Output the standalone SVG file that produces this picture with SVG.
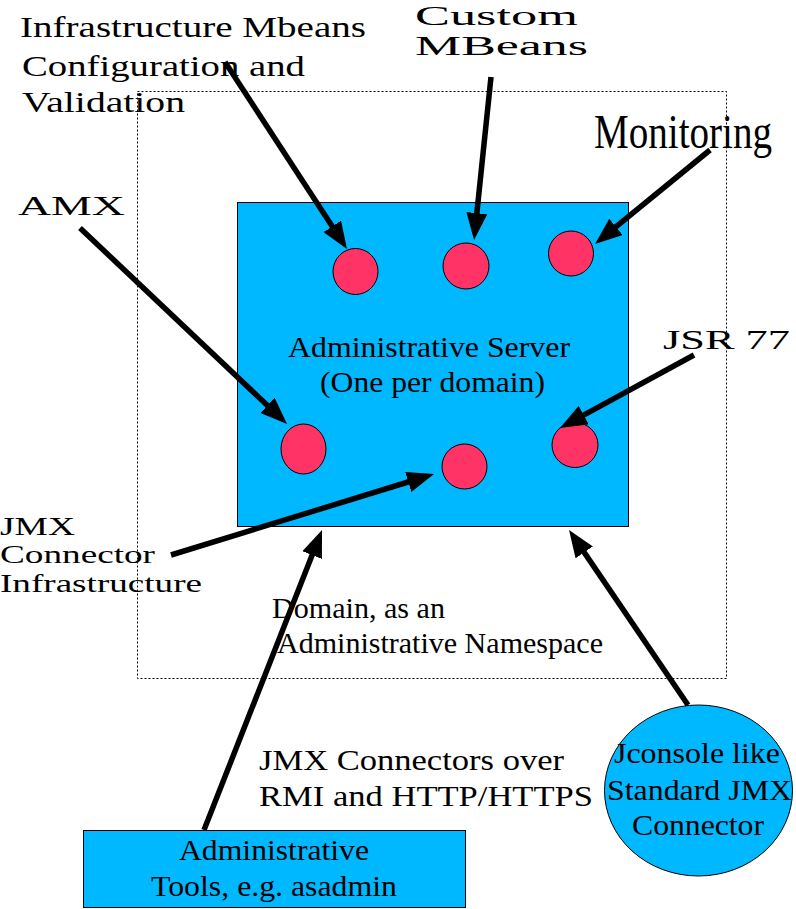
<svg xmlns="http://www.w3.org/2000/svg" width="796" height="909" viewBox="0 0 796 909" font-family="'Liberation Serif', 'Times New Roman', serif">
<style>
text{font-family:'Liberation Serif', 'Times New Roman', serif;fill:#000}
.lbl{font-size:30px}
.wide{font-size:27px}
.dom{fill:none;stroke:#000;stroke-width:1;stroke-dasharray:2,2}
.blue{fill:#00b8ff;stroke:#000;stroke-width:1}
.bean{fill:#ff3366;stroke:#000;stroke-width:1}
.arr{fill:none;stroke:#000;stroke-width:5.5;marker-end:url(#ah)}
</style>
<defs>
<marker id="ah" markerUnits="userSpaceOnUse" viewBox="0 0 27 21" markerWidth="27" markerHeight="21" refX="10" refY="10.5" orient="auto">
<path d="M0,0 L27,10.5 L0,21 z" fill="#000"/>
</marker>
</defs>
<rect width="796" height="909" fill="#fff"/>

<g id="domain">
<rect class="dom" x="137.5" y="91.5" width="589" height="587"/>
<text class="lbl" x="272" y="618" textLength="173" lengthAdjust="spacingAndGlyphs">Domain, as an</text>
<text class="lbl" x="277" y="653" textLength="326" lengthAdjust="spacingAndGlyphs">Administrative Namespace</text>
</g>

<g id="admin-server">
<rect class="blue" x="237.5" y="202.5" width="391" height="324"/>
<text class="lbl" x="288" y="357" textLength="282" lengthAdjust="spacingAndGlyphs">Administrative Server</text>
<text class="lbl" x="320" y="392" textLength="225" lengthAdjust="spacingAndGlyphs">(One per domain)</text>
</g>

<g id="mbean-infra"><ellipse class="bean" cx="355.5" cy="271.5" rx="22.5" ry="23"/></g>
<g id="mbean-custom"><ellipse class="bean" cx="466" cy="266" rx="23" ry="23"/></g>
<g id="mbean-monitoring"><ellipse class="bean" cx="571" cy="253.5" rx="22.5" ry="22.5"/></g>
<g id="mbean-amx"><ellipse class="bean" cx="303.5" cy="449" rx="22.5" ry="25"/></g>
<g id="mbean-jmx"><ellipse class="bean" cx="464.5" cy="466.5" rx="22.5" ry="22.5"/></g>
<g id="mbean-jsr77"><ellipse class="bean" cx="575" cy="445" rx="23" ry="22.5"/></g>

<g id="label-infra">
<text class="lbl" x="20" y="37" textLength="346" lengthAdjust="spacingAndGlyphs">Infrastructure Mbeans</text>
<text class="lbl" x="22" y="76" textLength="283" lengthAdjust="spacingAndGlyphs">Configuration and</text>
<text class="lbl" x="22" y="112" textLength="163" lengthAdjust="spacingAndGlyphs">Validation</text>
</g>
<g id="label-custom">
<text class="wide" x="415" y="25" textLength="163" lengthAdjust="spacingAndGlyphs">Custom</text>
<text class="wide" x="415" y="55" textLength="173" lengthAdjust="spacingAndGlyphs">MBeans</text>
</g>
<g id="label-monitoring">
<text x="594" y="148" font-size="48" textLength="178" lengthAdjust="spacingAndGlyphs">Monitoring</text>
</g>
<g id="label-amx">
<text class="wide" x="18" y="215" textLength="107" lengthAdjust="spacingAndGlyphs">AMX</text>
</g>
<g id="label-jsr77">
<text class="wide" x="663" y="349" font-size="29" textLength="127" lengthAdjust="spacingAndGlyphs">JSR 77</text>
</g>
<g id="label-jmx-infra">
<text x="0" y="535" font-size="25" textLength="75" lengthAdjust="spacingAndGlyphs">JMX</text>
<text x="0" y="563" font-size="25" textLength="155" lengthAdjust="spacingAndGlyphs">Connector</text>
<text x="0" y="592" font-size="25" textLength="202" lengthAdjust="spacingAndGlyphs">Infrastructure</text>
</g>

<g id="admin-tools">
<rect class="blue" x="83.5" y="830.5" width="382" height="77"/>
<text class="lbl" x="179" y="860" textLength="190" lengthAdjust="spacingAndGlyphs">Administrative</text>
<text class="lbl" x="151" y="896" textLength="246" lengthAdjust="spacingAndGlyphs">Tools, e.g. asadmin</text>
</g>

<g id="jconsole">
<ellipse class="blue" cx="698.5" cy="790.5" rx="94" ry="85.5"/>
<text class="lbl" x="614" y="763" textLength="166" lengthAdjust="spacingAndGlyphs">Jconsole like</text>
<text class="lbl" x="607" y="800" textLength="185" lengthAdjust="spacingAndGlyphs">Standard JMX</text>
<text class="lbl" x="632" y="835" textLength="132" lengthAdjust="spacingAndGlyphs">Connector</text>
</g>

<g id="label-connectors">
<text class="lbl" x="259" y="770" textLength="305" lengthAdjust="spacingAndGlyphs">JMX Connectors over</text>
<text class="lbl" x="259" y="806" textLength="334" lengthAdjust="spacingAndGlyphs">RMI and HTTP/HTTPS</text>
</g>

<g id="connectors">
<line class="arr" x1="225" y1="62" x2="337.7" y2="234.8"/>
<line class="arr" x1="491" y1="77" x2="475.8" y2="223.1"/>
<line class="arr" x1="710" y1="150" x2="608.2" y2="233.2"/>
<line class="arr" x1="80" y1="228" x2="274.7" y2="412.3"/>
<line class="arr" x1="694" y1="355" x2="574.9" y2="419.9"/>
<line class="arr" x1="171" y1="555" x2="417.8" y2="479"/>
<line class="arr" x1="204" y1="830" x2="315.8" y2="545.8"/>
<line class="arr" x1="688" y1="705" x2="578.6" y2="544.1"/>
</g>
</svg>
